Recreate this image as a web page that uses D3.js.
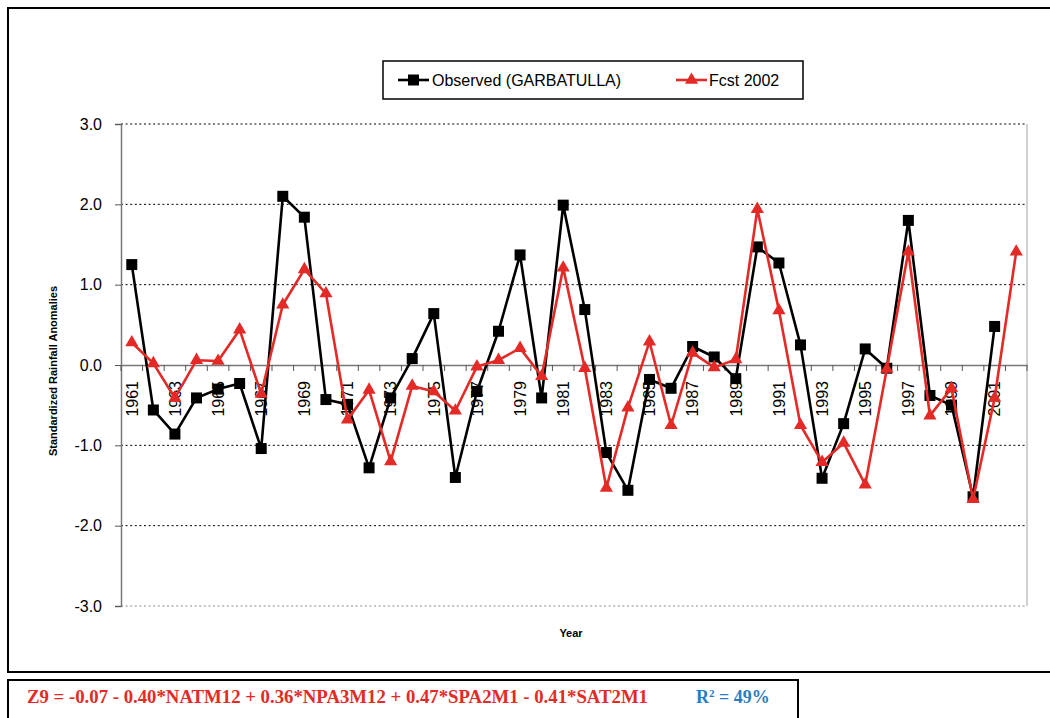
<!DOCTYPE html>
<html><head><meta charset="utf-8">
<script src="https://cdn.jsdelivr.net/npm/d3@7"></script>
<style>body{margin:0;background:#fff;overflow:hidden}</style>
</head><body>
<svg id="c" width="1050" height="718"></svg>
<script>
const years = ["1961","1962","1963","1964","1965","1966","1967","1968","1969","1970",
  "1971","1972","1973","1974","1975","1976","1977","1978","1979","1980",
  "1981","1982","1983","1984","1985","1986","1987","1988","1989","1990",
  "1991","1992","1993","1994","1995","1996","1997","1998","1999","2000","2001","2002"];
const observed = [1.25,-0.56,-0.86,-0.41,-0.30,-0.23,-1.04,2.10,1.84,-0.43,
  -0.49,-1.28,-0.41,0.08,0.64,-1.40,-0.33,0.42,1.37,-0.41,
  1.99,0.69,-1.09,-1.56,-0.18,-0.29,0.23,0.10,-0.17,1.47,
  1.27,0.25,-1.41,-0.73,0.20,-0.04,1.80,-0.38,-0.50,-1.64,0.48,null];
const forecast = [0.28,0.02,-0.41,0.06,0.05,0.44,-0.36,0.75,1.19,0.89,
  -0.68,-0.31,-1.20,-0.26,-0.33,-0.57,-0.02,0.06,0.21,-0.14,
  1.21,-0.04,-1.53,-0.53,0.29,-0.75,0.15,-0.03,0.07,1.94,
  0.68,-0.75,-1.21,-0.97,-1.49,-0.05,1.41,-0.63,-0.29,-1.67,-0.41,1.41];
const yTicks = [-3,-2,-1,0,1,2,3];
const seriesNames = ["Observed (GARBATULLA)","Fcst 2002"];
const formulaText = "Z9 = -0.07 - 0.40*NATM12 + 0.36*NPA3M12 + 0.47*SPA2M1 - 0.41*SAT2M1";
const r2Text = "R² = 49%";

const BLACK = "#000", RED = "#e32a26", BLUE = "#2c7bbd";
const svg = d3.select("#c");
const sans = "'Liberation Sans', Arial, sans-serif";

// outer frames
svg.append("rect").attr("x",8).attr("y",8).attr("width",1060).attr("height",664)
  .attr("fill","none").attr("stroke","#000").attr("stroke-width",2);
svg.append("rect").attr("x",8).attr("y",680).attr("width",790).attr("height",60)
  .attr("fill","none").attr("stroke","#000").attr("stroke-width",2);

const x = d3.scaleBand().domain(years).range([121,1027]).padding(0);
const y = d3.scaleLinear().domain([-3,3]).range([606,124]);
const cx = d => x(d) + x.bandwidth()/2;

// gridlines
svg.append("g").selectAll("line").data(yTicks.filter(t=>t!==0)).join("line")
  .attr("x1",121).attr("x2",1027).attr("y1",d=>y(d)).attr("y2",d=>y(d))
  .attr("stroke",d=>d===-3?"#888":"#000").attr("stroke-width",1)
  .attr("stroke-dasharray","2,2.6");
// right border of plot area
svg.append("line").attr("x1",1027).attr("x2",1027).attr("y1",y(3)).attr("y2",y(-3))
  .attr("stroke","#c0c0c0").attr("stroke-width",1.5);

// y axis
const yAxis = svg.append("g").attr("transform","translate(121,0)")
  .call(d3.axisLeft(y).tickValues(yTicks).tickSize(6).tickFormat(d=>d.toFixed(1)));
yAxis.select(".domain").attr("stroke","#777").attr("stroke-width",1.5);
yAxis.selectAll(".tick line").attr("stroke","#555");
yAxis.selectAll("text").attr("font-family",sans).attr("font-size",16).attr("fill","#000").attr("x",-19);

// x axis at zero
const xAxis = svg.append("g").attr("transform",`translate(0,${y(0)})`)
  .call(d3.axisBottom(x).tickSize(0).tickFormat((d,i)=> i%2===0 ? d : ""));
xAxis.select(".domain").attr("stroke","#777").attr("stroke-width",1.5);
xAxis.selectAll("text").attr("font-family",sans).attr("font-size",16).attr("fill","#000")
  .attr("transform","rotate(-90)").attr("text-anchor","end")
  .attr("x",-16).attr("y",0).attr("dy","0.36em");
// tick marks at category boundaries
svg.append("g").selectAll("line").data(years.map(d=>x(d)).concat([x.range()[1]])).join("line")
  .attr("x1",d=>d).attr("x2",d=>d).attr("y1",y(0)).attr("y2",y(0)+6)
  .attr("stroke","#555").attr("stroke-width",1);

// axis titles
svg.append("text").attr("transform","translate(57,371) rotate(-90)")
  .attr("text-anchor","middle").attr("font-family",sans).attr("font-weight","bold")
  .attr("font-size",11).text("Standardized Rainfall Anomalies");
svg.append("text").attr("x",571).attr("y",637).attr("text-anchor","middle")
  .attr("font-family",sans).attr("font-weight","bold").attr("font-size",11).text("Year");

// series
const line = d3.line().defined(d=>d.v!==null).x(d=>cx(d.y)).y(d=>y(d.v));
const obsData = years.map((yy,i)=>({y:yy,v:observed[i]}));
const fcData = years.map((yy,i)=>({y:yy,v:forecast[i]}));
const sq = d3.symbol().type(d3.symbolSquare).size(121);
const tri = d3.symbol().type(d3.symbolTriangle).size(75);

svg.append("path").datum(obsData).attr("d",line).attr("fill","none")
  .attr("stroke",BLACK).attr("stroke-width",2.6).attr("stroke-linejoin","round");
svg.append("g").selectAll("path").data(obsData.filter(d=>d.v!==null)).join("path")
  .attr("d",sq).attr("transform",d=>`translate(${cx(d.y)},${y(d.v)})`).attr("fill",BLACK);

svg.append("path").datum(fcData).attr("d",line).attr("fill","none")
  .attr("stroke",RED).attr("stroke-width",2.6).attr("stroke-linejoin","round");
svg.append("g").selectAll("path").data(fcData).join("path")
  .attr("d",tri).attr("transform",d=>`translate(${cx(d.y)},${y(d.v)})`).attr("fill",RED);

// legend
const lg = svg.append("g");
lg.append("rect").attr("x",383).attr("y",61).attr("width",420).attr("height",38)
  .attr("fill","#fff").attr("stroke","#000").attr("stroke-width",1.5);
lg.append("line").attr("x1",398).attr("x2",429).attr("y1",80).attr("y2",80).attr("stroke",BLACK).attr("stroke-width",2.6);
lg.append("path").attr("d",sq).attr("transform","translate(413.5,80)").attr("fill",BLACK);
lg.append("text").attr("x",432).attr("y",86).attr("font-family",sans).attr("font-size",16).text(seriesNames[0]);
lg.append("line").attr("x1",676).attr("x2",707).attr("y1",80).attr("y2",80).attr("stroke",RED).attr("stroke-width",2.6);
lg.append("path").attr("d",tri).attr("transform","translate(691.5,80)").attr("fill",RED);
lg.append("text").attr("x",709).attr("y",86).attr("font-family",sans).attr("font-size",16).text(seriesNames[1]);

// formula
const serif = "'Liberation Serif','Times New Roman',serif";
svg.append("text").attr("x",27).attr("y",703).attr("font-family",serif).attr("font-weight","bold")
  .attr("font-size",18).attr("fill",RED).attr("textLength",621).attr("lengthAdjust","spacingAndGlyphs")
  .text(formulaText);
const r2 = svg.append("text").attr("x",696).attr("y",703).attr("font-family",serif).attr("font-weight","bold")
  .attr("font-size",18).attr("fill",BLUE);
r2.append("tspan").text("R");
r2.append("tspan").attr("font-size",11).attr("dy",-6).text("2");
r2.append("tspan").attr("dy",6).text(" = 49%");
</script>
</body></html>
